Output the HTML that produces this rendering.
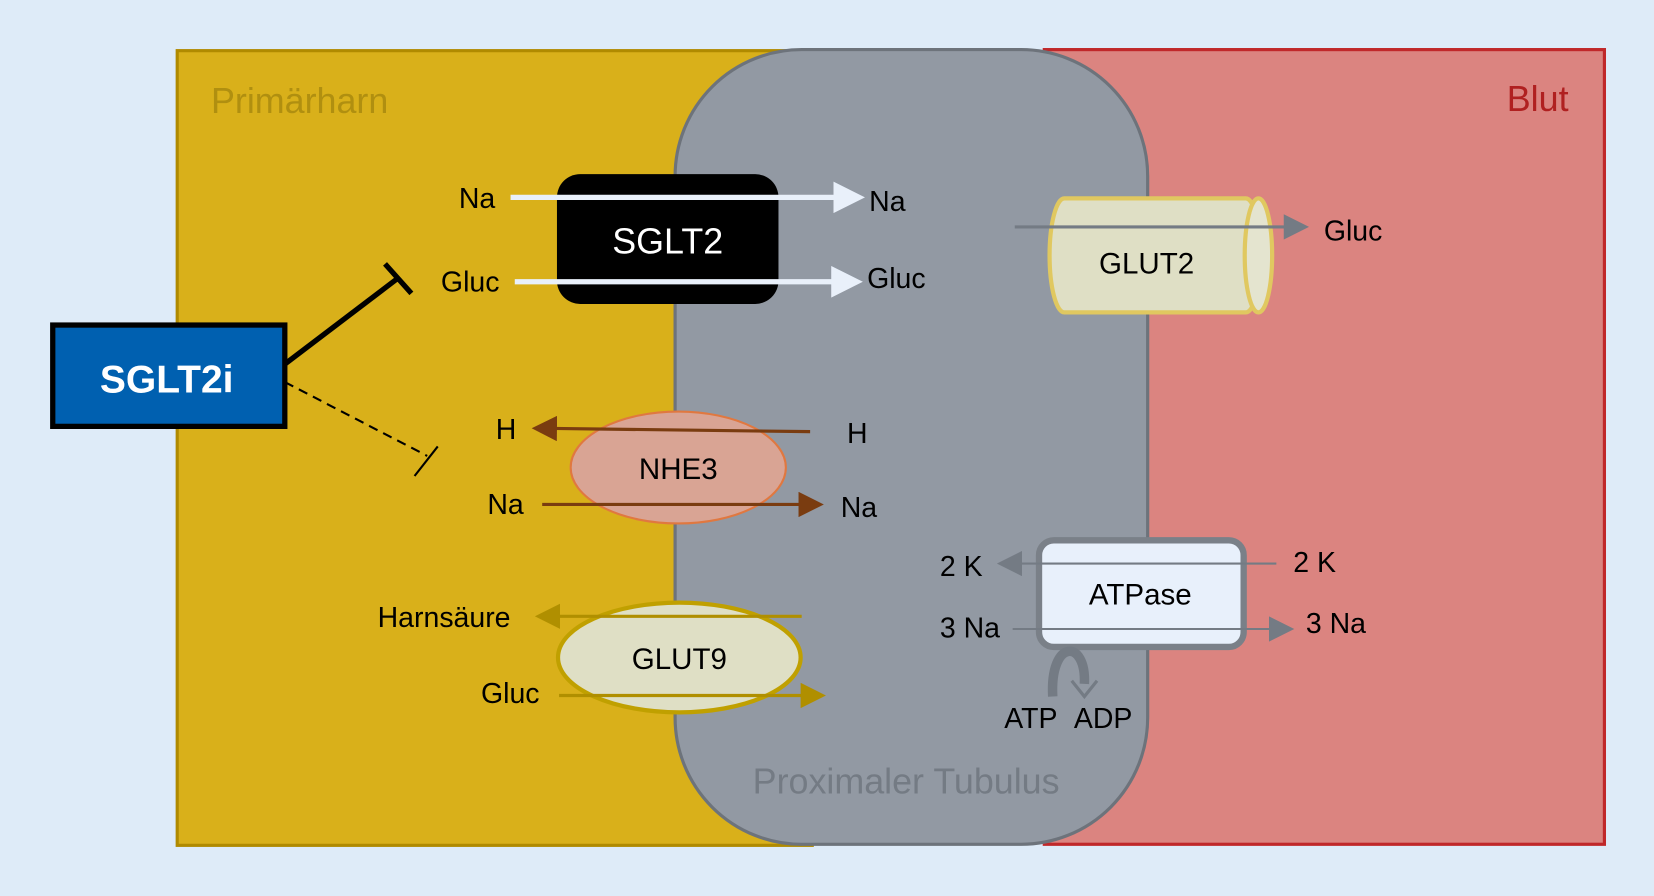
<!DOCTYPE html>
<html><head><meta charset="utf-8"><style>
html,body{margin:0;padding:0;background:#deebf8;}
svg{display:block;}
text{font-family:"Liberation Sans",sans-serif;}
</style></head><body>
<svg width="1654" height="896" viewBox="0 0 1568 849" preserveAspectRatio="none" xmlns="http://www.w3.org/2000/svg">
<defs>
<marker id="aw" markerWidth="6" markerHeight="6" refX="1" refY="3" orient="auto" markerUnits="strokeWidth"><path d="M0,0 L6,3 L0,6z" fill="#e9f0fa"/></marker>
<marker id="ab" markerWidth="8" markerHeight="8" refX="1" refY="4" orient="auto" markerUnits="strokeWidth"><path d="M0,0 L8,4 L0,8z" fill="#7a3c10"/></marker>
<marker id="ay" markerWidth="8" markerHeight="8" refX="1" refY="4" orient="auto" markerUnits="strokeWidth"><path d="M0,0 L8,4 L0,8z" fill="#b08f00"/></marker>
<marker id="ag" markerWidth="8" markerHeight="8" refX="1" refY="4" orient="auto" markerUnits="strokeWidth"><path d="M0,0 L8,4 L0,8z" fill="#747b84"/></marker>
<marker id="ag2" markerWidth="12" markerHeight="12" refX="1" refY="6" orient="auto" markerUnits="strokeWidth"><path d="M0,0 L12,6 L0,12z" fill="#747b84"/></marker>
</defs>
<rect width="1568" height="849" fill="#deebf8"/>
<rect x="168" y="48" width="602" height="753" fill="#d9b01a" stroke="#b08a00" stroke-width="3"/>
<rect x="990" y="47" width="531" height="753" fill="#db8480" stroke="#c0282a" stroke-width="3"/>
<rect x="640" y="47" width="448" height="753" rx="120" fill="#9299a3" stroke="#6d737b" stroke-width="3"/>
<text x="200" y="107" font-size="34" fill="#b08f10">Primärharn</text>
<text x="1487" y="105" font-size="34" fill="#b02020" text-anchor="end">Blut</text>
<text x="859" y="752" font-size="34" fill="#747b84" text-anchor="middle">Proximaler Tubulus</text>

<rect x="528" y="165" width="210" height="123" rx="22" fill="#000"/>
<text x="633" y="240" font-size="34" fill="#fff" text-anchor="middle">SGLT2</text>
<line x1="484" y1="187" x2="795" y2="187" stroke="#e9f0fa" stroke-width="5" marker-end="url(#aw)"/>
<line x1="488" y1="267" x2="793" y2="267" stroke="#e9f0fa" stroke-width="5" marker-end="url(#aw)"/>
<g font-size="27" fill="#000">
<text x="435" y="197">Na</text><text x="824" y="200">Na</text>
<text x="418" y="276">Gluc</text><text x="822" y="273">Gluc</text>
</g>

<rect x="995" y="188" width="200" height="108" rx="14" ry="54" fill="#dfdfc5" stroke="#e0c860" stroke-width="4"/>
<ellipse cx="1193" cy="242" rx="13" ry="54" fill="#e4e4cf" stroke="#e0c860" stroke-width="4"/>
<text x="1087" y="259" font-size="28" text-anchor="middle">GLUT2</text>
<line x1="962" y1="215" x2="1220" y2="215" stroke="#747b84" stroke-width="3" marker-end="url(#ag)"/>
<text x="1255" y="228" font-size="27">Gluc</text>

<rect x="50" y="308" width="220" height="96" fill="#0060b0" stroke="#000" stroke-width="5"/>
<text x="158" y="372" font-size="37" font-weight="bold" fill="#fff" text-anchor="middle">SGLT2i</text>
<line x1="270" y1="345" x2="378" y2="263" stroke="#000" stroke-width="5"/>
<line x1="365" y1="250" x2="390" y2="278" stroke="#000" stroke-width="5"/>
<line x1="270" y1="362" x2="405" y2="432" stroke="#000" stroke-width="2" stroke-dasharray="9,6"/>
<line x1="393" y1="451" x2="415" y2="423" stroke="#000" stroke-width="2"/>

<ellipse cx="643" cy="443" rx="102" ry="53" fill="#d9a494" stroke="#e07840" stroke-width="2"/>
<text x="643" y="454" font-size="28" text-anchor="middle">NHE3</text>
<line x1="768" y1="409" x2="525" y2="406" stroke="#7a3c10" stroke-width="3" marker-end="url(#ab)"/>
<line x1="514" y1="478" x2="760" y2="478" stroke="#7a3c10" stroke-width="3" marker-end="url(#ab)"/>
<g font-size="27"><text x="470" y="416">H</text><text x="803" y="420">H</text>
<text x="462" y="487">Na</text><text x="797" y="490">Na</text></g>

<ellipse cx="644" cy="623" rx="115" ry="52" fill="#dfdfc5" stroke="#c0a000" stroke-width="4"/>
<text x="644" y="634" font-size="28" text-anchor="middle">GLUT9</text>
<line x1="760" y1="584" x2="528" y2="584" stroke="#b08f00" stroke-width="3" marker-end="url(#ay)"/>
<line x1="530" y1="659" x2="762" y2="659" stroke="#b08f00" stroke-width="3" marker-end="url(#ay)"/>
<g font-size="27"><text x="358" y="594">Harnsäure</text><text x="456" y="666">Gluc</text></g>

<rect x="985" y="512" width="194" height="101" rx="14" fill="#e8f0fb" stroke="#7a8088" stroke-width="6"/>
<text x="1081" y="573" font-size="28" text-anchor="middle">ATPase</text>
<line x1="1210" y1="534" x2="967" y2="534" stroke="#747b84" stroke-width="2" marker-end="url(#ag2)"/>
<line x1="960" y1="596" x2="1205" y2="596" stroke="#747b84" stroke-width="2" marker-end="url(#ag2)"/>
<path d="M998,660 C995,605 1030,605 1028,648" fill="none" stroke="#747b84" stroke-width="9"/>
<path d="M1016,645 L1028,660 L1040,645" fill="none" stroke="#747b84" stroke-width="3"/>
<g font-size="27"><text x="891" y="546">2 K</text><text x="1226" y="542">2 K</text>
<text x="891" y="604">3 Na</text><text x="1238" y="600">3 Na</text>
<text x="952" y="690">ATP</text><text x="1018" y="690">ADP</text></g>
</svg>
</body></html>
